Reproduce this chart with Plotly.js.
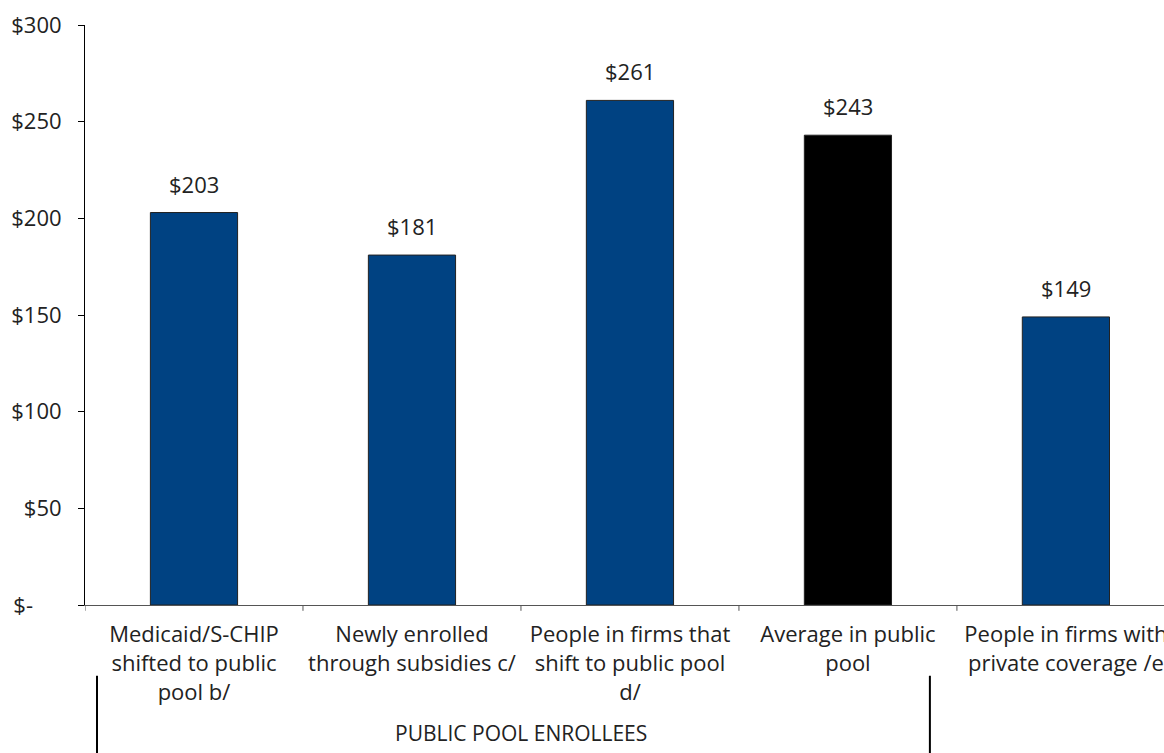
<!DOCTYPE html>
<html>
<head>
<meta charset="utf-8">
<script src="https://cdn.plot.ly/plotly-3.0.1.min.js"></script>
<style>html,body{margin:0;padding:0;background:#fff}#chart{width:1164px;height:753px}</style>
</head>
<body>
<div id="chart"></div>
<script>
const categories = [
  "Medicaid/S-CHIP<br>shifted to public<br>pool b/",
  "Newly enrolled<br>through subsidies c/",
  "People in firms that<br>shift to public pool<br>d/",
  "Average in public<br>pool",
  "People in firms with<br>private coverage /e"
];
const values = [203, 181, 261, 243, 149];
const barColors = ["#004282", "#004282", "#004282", "#000000", "#004282"];
const yTickVals = [0, 50, 100, 150, 200, 250, 300];
const yTickText = ["$-\u00a0\u00a0\u00a0\u00a0\u00a0", "$50", "$100", "$150", "$200", "$250", "$300"];
const groupLabel = "PUBLIC POOL ENROLLEES";

const FONT = "Open Sans, sans-serif";
const TXT = "#222";
const xIdx = categories.map((_, i) => i);

const trace = {
  type: "bar",
  x: xIdx,
  y: values,
  width: 0.4,
  marker: {color: barColors, line: {color: "#222", width: 1}},
  hoverinfo: "none"
};

const annotations = values.map((v, i) => ({
  x: i, y: v, xref: "x", yref: "y",
  text: "$" + v, showarrow: false,
  yanchor: "bottom", yshift: 12,
  font: {family: FONT, size: 22, color: TXT}
}));
annotations.push({
  x: 1.5, y: -0.221, xref: "x", yref: "paper",
  text: groupLabel, showarrow: false,
  xanchor: "center", yanchor: "middle",
  font: {family: FONT, size: 21, color: TXT}
});

const layout = {
  width: 1164, height: 753,
  margin: {l: 85, r: 0, t: 25, b: 148},
  paper_bgcolor: "#fff", plot_bgcolor: "#fff",
  showlegend: false,
  font: {family: FONT, size: 22, color: TXT},
  xaxis: {
    type: "linear",
    range: [-0.5, 4.45],
    tickmode: "array",
    tickvals: xIdx,
    ticktext: categories,
    ticks: "",
    ticklabeloverflow: "allow",
    ticklabelstandoff: 10,
    showgrid: false, zeroline: false,
    showline: true, linecolor: "#555", linewidth: 1,
    tickfont: {family: FONT, size: 22, color: TXT},
    fixedrange: true
  },
  yaxis: {
    range: [0, 300],
    tickmode: "array",
    tickvals: yTickVals,
    ticktext: yTickText,
    ticks: "outside", ticklen: 6, tickcolor: "#000", tickwidth: 1,
    showgrid: false, zeroline: false,
    showline: true, linecolor: "#000", linewidth: 1,
    tickfont: {family: FONT, size: 22, color: TXT},
    ticklabelstandoff: 12,
    fixedrange: true
  },
  annotations: annotations,
  shapes: [
    ...[-0.5, 0.5, 1.5, 2.5, 3.5].map(b => ({
      type: "line", xref: "x", yref: "paper",
      x0: b, x1: b, y0: 0, y1: -0.01,
      line: {color: "#555", width: 1}
    })),
    {type: "line", xref: "x", yref: "paper", x0: -0.445, x1: -0.445, y0: -0.122, y1: -0.26, line: {color: "#000", width: 2}},
    {type: "line", xref: "x", yref: "paper", x0: 3.376, x1: 3.376, y0: -0.122, y1: -0.26, line: {color: "#000", width: 2}}
  ]
};

Plotly.newPlot("chart", [trace], layout, {displayModeBar: false, staticPlot: true});
</script>
</body>
</html>
